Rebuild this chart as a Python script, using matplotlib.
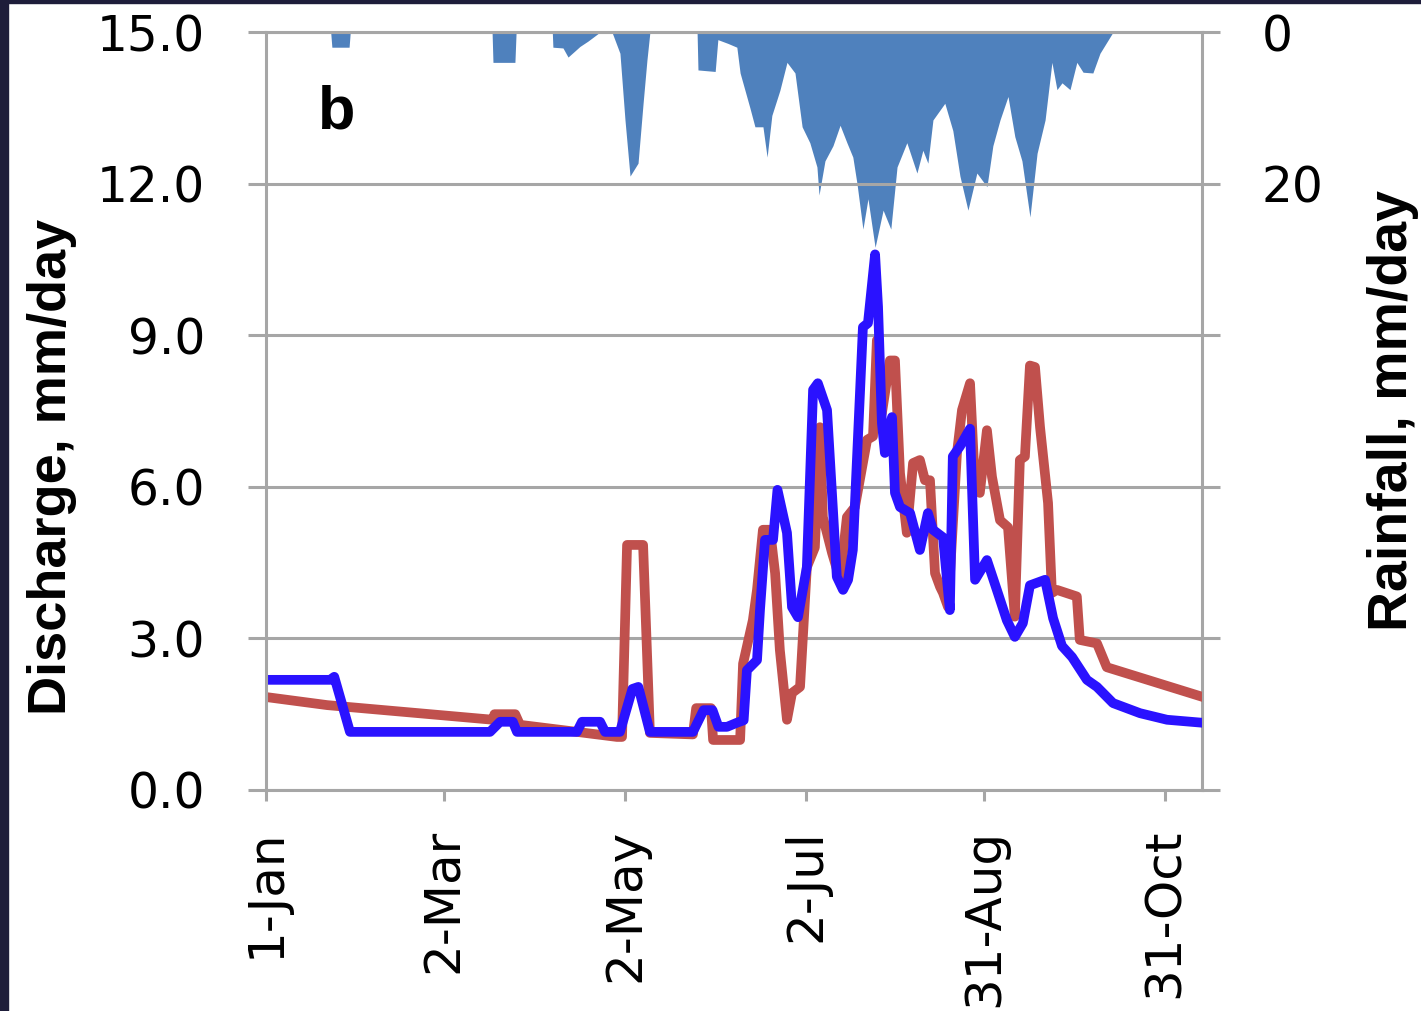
import matplotlib
matplotlib.use("Agg")
import matplotlib.pyplot as plt
from matplotlib.patches import Rectangle

# ---- data (day of year from 1-Jan) ----
tick_days = [0, 60, 121, 182, 242, 303]
tick_labels = ["1-Jan", "2-Mar", "2-May", "2-Jul", "31-Aug", "31-Oct"]

q_ticks = [0, 3, 6, 9, 12, 15]
rain_ticks = [0, 20, 40, 60, 80, 100]
rain_tick_labels = ["0", "20", "", "", "", ""]

obs_days = [0, 20.6, 76.5, 77, 84, 85.6, 104.8, 118.3, 120.0, 121.7, 127.1, 129.4,
            143.9, 145, 150.0, 150.7, 159.8, 160.8, 164.1, 165.5, 167.5, 169.9,
            171.6, 173.2, 175.6, 177.3, 180.0, 182.3, 185.0, 186.7, 187.7, 190.8,
            193.5, 195.8, 198.5, 202.6, 204.6, 205.9, 207.6, 210.3, 212.0, 213.7,
            216.0, 218.1, 220.4, 222.1, 223.8, 225.5, 227.2, 228.2, 229.9, 232.9,
            234.6, 237.3, 239.0, 240.6, 243.0, 244.7, 247.4, 250.1, 252.4, 254.1,
            255.8, 257.5, 259.2, 260.9, 263.6, 264.9, 266.6, 273.3, 274.3, 280.1,
            283.4, 315.8]
obs_q = [1.84, 1.68, 1.39, 1.50, 1.50, 1.29, 1.15, 1.05, 1.05, 4.85, 4.85, 1.13,
         1.10, 1.62, 1.62, 0.99, 0.99, 2.50, 3.36, 3.96, 5.15, 5.15,
         4.29, 2.77, 1.39, 1.92, 2.04, 4.41, 4.80, 7.18, 5.40, 4.69,
         4.16, 5.40, 5.60, 6.93, 7.00, 8.90, 7.46, 8.50, 8.50, 6.27,
         5.09, 6.47, 6.53, 6.13, 6.13, 4.29, 4.02, 3.90, 3.62, 6.67,
         7.52, 8.05, 6.00, 5.88, 7.12, 6.20, 5.34, 5.20, 3.43, 6.53,
         6.60, 8.40, 8.37, 7.18, 5.68, 3.90, 3.96, 3.83, 2.97, 2.90,
         2.43, 1.84]

sim_days = [0, 21.6, 23, 28.3, 75.5, 78.9, 83.2, 84.6, 104.8, 106.5, 112.6, 114.3,
            119.3, 123.5, 125.5, 129.4, 143.9, 147.5, 150.5, 152.5, 155.4, 158.7,
            161, 162.1, 165.5, 166.5, 168.2, 170.9, 172.4, 175.6, 177.3, 179.3,
            182.3, 184.4, 186.0, 189.1, 191.1, 192.4, 194.5, 196.2, 197.8, 200.2,
            201.2, 202.9, 205.3, 206.3, 207.6, 208.6, 211.0, 212.0, 213.7, 217.1,
            220.4, 223.1, 224.8, 228.2, 230.5, 231.5, 233.9, 237.3, 239.0, 243.0,
            246.4, 249.7, 252.4, 255.1, 257.5, 262.6, 265.3, 268.3, 271.7, 276.7,
            280.1, 285.5, 294.6, 303.7, 315.8]
sim_q = [2.18, 2.18, 2.24, 1.15, 1.15, 1.35, 1.35, 1.15, 1.15, 1.35, 1.35, 1.15,
         1.15, 2.00, 2.04, 1.15, 1.15, 1.58, 1.58, 1.25, 1.25, 1.33,
         1.38, 2.37, 2.57, 3.56, 4.95, 4.95, 5.94, 5.09, 3.62, 3.42,
         4.41, 7.92, 8.05, 7.52, 5.54, 4.22, 3.96, 4.16, 4.75, 7.85,
         9.16, 9.24, 10.6, 9.56, 7.26, 6.67, 7.38, 5.88, 5.60, 5.48,
         4.75, 5.48, 5.15, 5.00, 3.56, 6.60, 6.80, 7.15, 4.16, 4.55,
         3.95, 3.36, 3.03, 3.30, 4.05, 4.16, 3.40, 2.85, 2.63, 2.18,
         2.04, 1.72, 1.52, 1.39, 1.33]

rain_days = [0, 21.8, 22.2, 28.0, 28.4, 76.2, 76.5, 83.9, 84.3, 96.5, 96.7, 100.1,
             101.8, 104.1, 105.8, 108.5, 112.6, 116.6, 119.3, 121.0, 122.7, 125.4,
             127.1, 128.4, 129.4, 145.3, 145.6, 151.4, 152.3, 155.7, 158.7, 159.8,
             163.1, 164.8, 167.5, 168.9, 170.5, 173.2, 175.6, 178.3, 180.7, 183.3,
             185.7, 186.4, 188.4, 191.1, 193.5, 195.8, 197.8, 199.2, 201.2, 202.9,
             205.3, 208.0, 210.6, 212.7, 216.0, 219.4, 221.4, 223.1, 224.8, 228.8,
             231.5, 233.9, 236.6, 239.6, 243.0, 245.0, 247.4, 250.1, 252.4, 254.8,
             257.5, 259.9, 262.6, 264.9, 266.6, 268.3, 271.0, 273.3, 275.4, 278.7,
             281.1, 285.5, 315.8]
rain_mm = [0, 0, 2.0, 2.0, 0, 0, 4.0, 4.0, 0, 0, 2.0, 2.1,
           3.3, 2.5, 1.9, 1.2, 0, 0, 2.8, 11.6, 19.0, 17.3,
           9.4, 3.7, 0, 0, 5.0, 5.2, 1.0, 1.5, 2.0, 5.4,
           10.0, 12.5, 12.5, 16.5, 11.0, 7.7, 4.0, 5.4, 12.5, 14.6,
           17.8, 21.5, 17.0, 15.0, 12.3, 14.6, 16.5, 20.0, 26.0, 22.0,
           28.4, 23.5, 26.0, 17.8, 14.6, 18.6, 15.6, 17.3, 11.6, 9.4,
           13.0, 19.0, 23.5, 18.6, 20.4, 15.0, 11.6, 8.5, 13.8, 17.0,
           24.4, 16.0, 11.6, 4.0, 7.6, 6.7, 7.6, 4.0, 5.3, 5.4,
           2.8, 0, 0]

# ---- style ----
GRID = "#a6a6a6"
RED = "#c0504d"
BLUE = "#2a12ff"
RAIN = "#4f81bd"
plt.rcParams["font.family"] = ["DejaVu Sans"]
TITLE_FONT = ["Liberation Sans", "DejaVu Sans"]

fig = plt.figure(figsize=(14.21, 10.11), dpi=100)
fig.patch.set_facecolor("white")

ax = fig.add_axes([0.1872, 0.2186, 0.6587, 0.7497])
ax2 = ax.twinx()

# rainfall on inverted secondary axis (drawn behind)
ax2.fill_between(rain_days, rain_mm, 0, color=RAIN, lw=0)
ax2.set_ylim(100, 0)
ax2.set_yticks(rain_ticks)
ax2.set_yticklabels(rain_tick_labels)
ax2.tick_params(axis="y", length=13, width=2.2, color=GRID, pad=30, labelsize=35)
for s in ["left", "top", "bottom"]:
    ax2.spines[s].set_visible(False)
ax2.spines["right"].set_color(GRID)
ax2.spines["right"].set_linewidth(2.2)

ax.set_zorder(ax2.get_zorder() + 1)
ax.patch.set_visible(False)

ax.plot(obs_days, obs_q, color=RED, lw=7, solid_joinstyle="round", solid_capstyle="round")
ax.plot(sim_days, sim_q, color=BLUE, lw=7, solid_joinstyle="round", solid_capstyle="round")

ax.set_xlim(0, 315.5)
ax.set_ylim(0, 15)
ax.set_yticks(q_ticks)
ax.set_yticklabels([f"{v:.1f}" for v in q_ticks])
ax.set_xticks(tick_days)
ax.set_xticklabels(tick_labels, rotation=90)
ax.grid(axis="y", color=GRID, lw=2.2)
ax.set_axisbelow(True)
ax.tick_params(axis="y", length=13, width=2.2, color=GRID, pad=31, labelsize=35)
ax.tick_params(axis="x", length=8, width=2.2, color=GRID, pad=20, labelsize=36)
for s in ["left", "bottom", "top"]:
    ax.spines[s].set_color(GRID)
    ax.spines[s].set_linewidth(2.2)
ax.spines["right"].set_visible(False)

ax.text(0.075, 0.893, "b", transform=ax.transAxes, ha="center", va="center",
        fontsize=44, fontweight="bold", family=TITLE_FONT)

fig.text(0.0366, 0.538, "Discharge, mm/day", rotation=90, ha="center", va="center",
         fontsize=39, fontweight="bold", family=TITLE_FONT)
fig.text(0.980, 0.594, "Rainfall, mm/day", rotation=90, ha="center", va="center",
         fontsize=40, fontweight="bold", family=TITLE_FONT)

# dark frame edges of the source screenshot
fig.patches.append(Rectangle((0, 0), 8 / 1421, 1, transform=fig.transFigure,
                             color="#1e1d3a", zorder=0))
fig.patches.append(Rectangle((0, 1 - 3 / 1011), 1, 3 / 1011, transform=fig.transFigure,
                             color="#1e1d3a", zorder=0))

fig.savefig("out.png", dpi=100)
